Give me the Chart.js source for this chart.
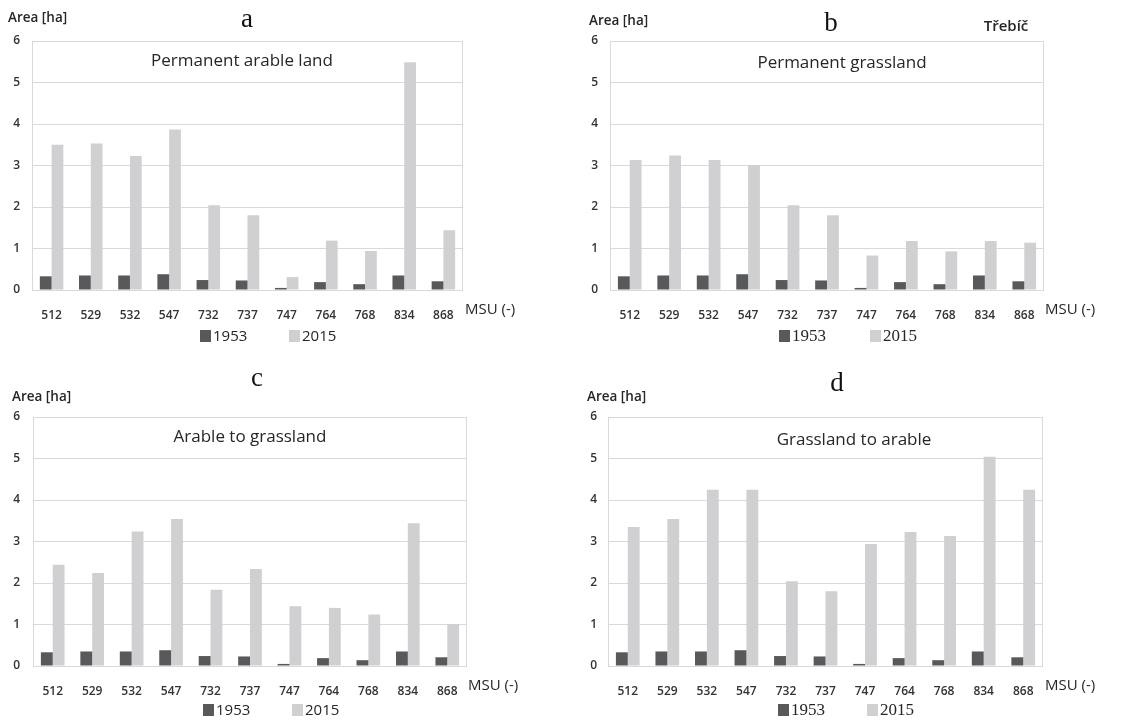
<!DOCTYPE html>
<html lang="en">
<head>
<meta charset="UTF-8">
<title>Area by MSU - Třebíč</title>
<script src="https://cdn.jsdelivr.net/npm/chart.js"></script>
<style>
  body { margin: 0; background: #fff; font-family: 'Open Sans', sans-serif; }
  .wrap { position: relative; width: 1147px; height: 722px; overflow: hidden; }
  .panel { position: absolute; width: 574px; height: 361px; }
  .panel canvas { position: absolute; left: 0; top: 0; }
  .txt { position: absolute; white-space: nowrap; line-height: 1; color: #262626; }
  .area { font-size: 13.5px; font-weight: 600; transform: translateY(-50%); }
  .letter { font-family: 'Liberation Serif', serif; font-size: 27px; color: #111; transform: translate(-50%, -50%); }
  .inner { font-size: 17px; transform: translate(-50%, -50%); }
  .msu { font-size: 15px; transform: translateY(-50%); }
  .town { font-size: 15px; font-weight: 600; transform: translate(-50%, -50%); }
</style>
</head>
<body>
<div class="wrap">
  <div class="panel" style="left:0;top:0">
    <canvas id="chartA" width="574" height="361"></canvas>
    <div class="txt area" style="left:8px;top:18px">Area [ha]</div>
    <div class="txt letter" style="left:247px;top:18px">a</div>
    <div class="txt inner" style="left:242px;top:59px">Permanent arable land</div>
    <div class="txt msu" style="left:465px;top:308px">MSU (-)</div>
  </div>
  <div class="panel" style="left:574px;top:0">
    <canvas id="chartB" width="574" height="361"></canvas>
    <div class="txt area" style="left:15px;top:21px">Area [ha]</div>
    <div class="txt letter" style="left:257px;top:22px">b</div>
    <div class="txt town" style="left:432px;top:25px">Třebíč</div>
    <div class="txt inner" style="left:268px;top:61px">Permanent grassland</div>
    <div class="txt msu" style="left:471px;top:308px">MSU (-)</div>
  </div>
  <div class="panel" style="left:0;top:361px">
    <canvas id="chartC" width="574" height="361"></canvas>
    <div class="txt area" style="left:12px;top:36px">Area [ha]</div>
    <div class="txt letter" style="left:257px;top:16px">c</div>
    <div class="txt inner" style="left:250px;top:74px">Arable to grassland</div>
    <div class="txt msu" style="left:468px;top:323px">MSU (-)</div>
  </div>
  <div class="panel" style="left:574px;top:361px">
    <canvas id="chartD" width="574" height="361"></canvas>
    <div class="txt area" style="left:13px;top:36px">Area [ha]</div>
    <div class="txt letter" style="left:263px;top:21px">d</div>
    <div class="txt inner" style="left:280px;top:77px">Grassland to arable</div>
    <div class="txt msu" style="left:471px;top:323px">MSU (-)</div>
  </div>
</div>

<script>
// MSU categories (x axis)
const msu = ['512', '529', '532', '547', '732', '737', '747', '764', '768', '834', '868'];
const yTicks = [0, 1, 2, 3, 4, 5, 6];

// 1953 values (same in all four panels)
const area1953 = [0.33, 0.35, 0.35, 0.38, 0.24, 0.23, 0.05, 0.19, 0.14, 0.35, 0.21];

// 2015 values per panel
const arable2015 = [3.50, 3.53, 3.23, 3.87, 2.04, 1.80, 0.31, 1.19, 0.94, 5.49, 1.44];
const grassland2015 = [3.13, 3.24, 3.13, 3.01, 2.04, 1.80, 0.83, 1.18, 0.93, 1.18, 1.14];
const arableToGrass2015 = [2.44, 2.24, 3.24, 3.54, 1.84, 2.34, 1.44, 1.40, 1.24, 3.44, 1.01];
const grassToArable2015 = [3.35, 3.54, 4.25, 4.25, 2.04, 1.80, 2.94, 3.23, 3.13, 5.04, 4.25];

const dark = '#58595b';
const light = '#d0d0d2';
const gridColor = '#d9d9d9';
const tickFont = { family: 'Open Sans', size: 12, weight: '600' };

// light grey frame round the plot area
const framePlugin = {
    id: 'frame',
    beforeDatasetsDraw(chart) {
        const a = chart.chartArea;
        const c = chart.ctx;
        c.save();
        c.strokeStyle = gridColor;
        c.lineWidth = 1;
        c.strokeRect(a.left + 0.5, a.top + 0.5, a.right - a.left - 1, a.bottom - a.top);
        c.restore();
    }
};

// simple legend drawn at fixed spots under the axis
const boxLegend = {
    id: 'boxLegend',
    afterDraw(chart, args, opts) {
        const c = chart.ctx;
        c.save();
        c.font = opts.font;
        c.textBaseline = 'middle';
        chart.data.datasets.forEach((ds, i) => {
            const x = opts.x[i];
            c.fillStyle = ds.backgroundColor;
            c.fillRect(x, opts.y - 6, 11, 12);
            c.fillStyle = '#262626';
            c.fillText(ds.label, x + 13, opts.y + 1);
        });
        c.restore();
    }
};

function makeChart(id, values2015, g) {
    return new Chart(document.getElementById(id), {
        type: 'bar',
        data: {
            labels: msu,
            datasets: [
                { label: '1953', data: area1953, backgroundColor: dark },
                { label: '2015', data: values2015, backgroundColor: light }
            ]
        },
        options: {
            responsive: false,
            animation: false,
            events: [],
            datasets: { bar: { categoryPercentage: 0.6, barPercentage: 1.0 } },
            layout: { padding: { left: 0, right: g.right, top: g.top, bottom: g.bottom } },
            plugins: {
                legend: { display: false },
                tooltip: { enabled: false },
                boxLegend: { x: g.legendX, y: g.legendY, font: g.legendFont }
            },
            scales: {
                x: {
                    grid: { display: false },
                    border: { display: false },
                    ticks: { color: '#333', font: tickFont, padding: 10, maxRotation: 0 },
                    afterFit(scale) { scale.height = 30; }
                },
                y: {
                    min: 0,
                    max: 6,
                    afterBuildTicks(scale) { scale.ticks = yTicks.map(v => ({ value: v })); },
                    grid: { color: gridColor, drawTicks: false },
                    border: { display: false },
                    ticks: { color: '#333', font: tickFont, padding: g.yPad },
                    afterFit(scale) { scale.width = g.left; }
                }
            }
        },
        plugins: [framePlugin, boxLegend]
    });
}

const sansLegend = "15px 'Open Sans', sans-serif";
const serifLegend = "17px 'Liberation Serif', serif";

makeChart('chartA', arable2015, { left: 32, right: 111, top: 41, bottom: 41, yPad: 12, legendX: [200, 289], legendY: 336, legendFont: sansLegend });
makeChart('chartB', grassland2015, { left: 36, right: 104, top: 41, bottom: 41, yPad: 12, legendX: [205, 296], legendY: 336, legendFont: serifLegend });
makeChart('chartC', arableToGrass2015, { left: 33, right: 107, top: 56, bottom: 26, yPad: 13, legendX: [203, 292], legendY: 349, legendFont: sansLegend });
makeChart('chartD', grassToArable2015, { left: 34, right: 105, top: 56, bottom: 26, yPad: 11, legendX: [204, 293], legendY: 349, legendFont: serifLegend });
</script>
</body>
</html>
